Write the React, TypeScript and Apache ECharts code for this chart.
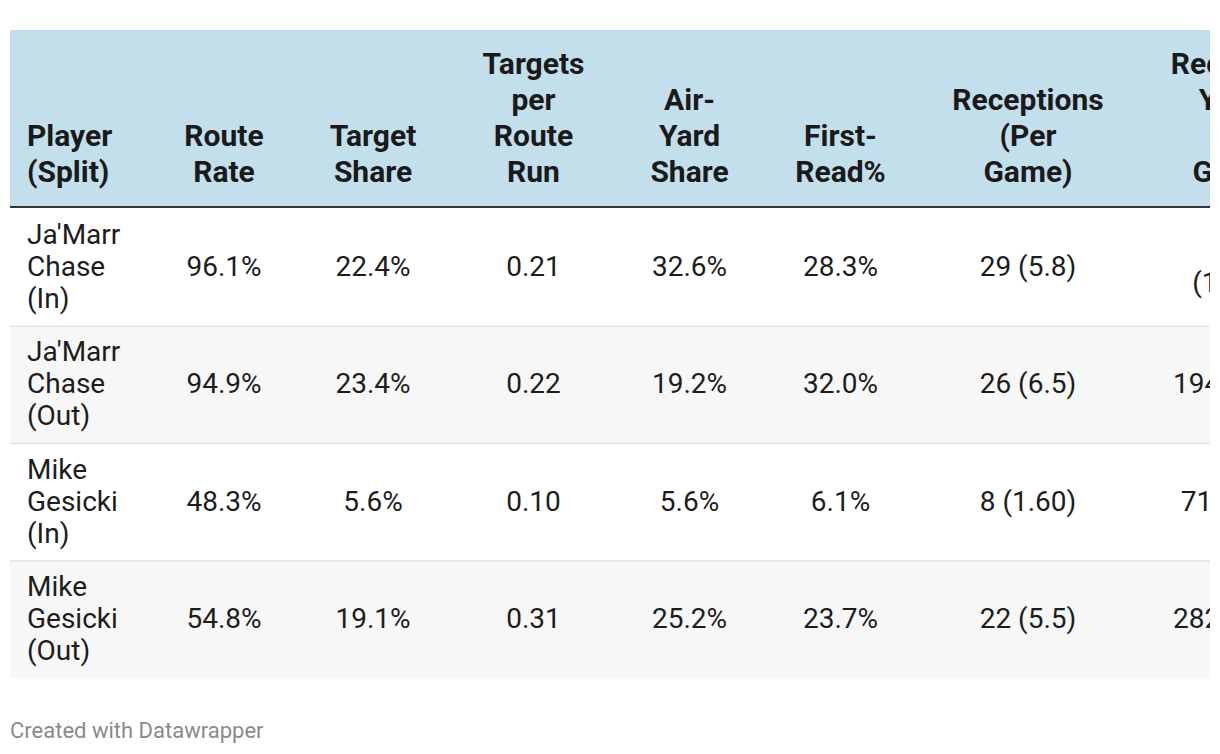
import React, { useEffect, useRef } from "react";
import * as echarts from "echarts";

// ---- data ----
const headers = [
  "Player\n(Split)",
  "Route\nRate",
  "Target\nShare",
  "Targets\nper\nRoute\nRun",
  "Air-\nYard\nShare",
  "First-\nRead%",
  "Receptions\n(Per\nGame)",
  "Receiving\nYards\n(Per\nGame)",
];
const players = ["Ja'Marr Chase (In)", "Ja'Marr Chase (Out)", "Mike Gesicki (In)", "Mike Gesicki (Out)"];
const routeRate = [96.1, 94.9, 48.3, 54.8];
const targetShare = [22.4, 23.4, 5.6, 19.1];
const targetsPerRouteRun = [0.21, 0.22, 0.1, 0.31];
const airYardShare = [32.6, 19.2, 5.6, 25.2];
const firstRead = [28.3, 32.0, 6.1, 23.7];
const receptions = [29, 26, 8, 22];
const receptionsPerGame = ["5.8", "6.5", "1.60", "5.5"];
const recYards = [539, 194, 71, 282];
const recYardsPerGame = ["107.8", "48.5", "14.2", "70.5"];
const footer = "Created with Datawrapper";

// ---- layout ----
const FONT = "Roboto, 'Noto Sans', sans-serif";
const COL_CENTERS = [17, 214, 363, 523.5, 679.5, 830.5, 1018, 1227];
const COL_WIDTHS = [110, 140, 140, 140, 140, 140, 170, 135];
const HEADER_TOP = 30;
const HEADER_BOTTOM = 207;
const ROW_TOP = 209;
const ROW_H = 117.3;
const TABLE_W = 1200;

function pct(v: number) {
  return v.toFixed(1) + "%";
}

function buildRows(): string[][] {
  return players.map((p, i) => [
    p.split(" ").join("\n"),
    pct(routeRate[i]),
    pct(targetShare[i]),
    targetsPerRouteRun[i].toFixed(2),
    pct(airYardShare[i]),
    pct(firstRead[i]),
    `${receptions[i]} (${receptionsPerGame[i]})`,
    `${recYards[i]} (${recYardsPerGame[i]})`,
  ]);
}

export default function App() {
  const ref = useRef<HTMLDivElement>(null);
  useEffect(() => {
    if (!ref.current) return;
    const chart = echarts.init(ref.current, null, { renderer: "svg" });
    const els: any[] = [];
    els.push({
      type: "rect",
      shape: { x: 0, y: HEADER_TOP, width: TABLE_W, height: HEADER_BOTTOM - HEADER_TOP },
      style: { fill: "#c3dfec" },
      silent: true,
    });
    const rows = buildRows();
    rows.forEach((_, i) => {
      const y = ROW_TOP + i * ROW_H;
      els.push({
        type: "rect",
        shape: { x: 0, y, width: TABLE_W, height: ROW_H },
        style: { fill: i % 2 === 1 ? "#f7f7f7" : "#ffffff" },
        silent: true,
      });
      if (i > 0) {
        els.push({
          type: "line",
          shape: { x1: 0, y1: y, x2: TABLE_W, y2: y },
          style: { stroke: "#e3e3e3", lineWidth: 1.5 },
          silent: true,
        });
      }
    });
    els.push({
      type: "rect",
      shape: { x: 0, y: HEADER_BOTTOM - 1, width: TABLE_W, height: 2 },
      style: { fill: "#333333" },
      silent: true,
    });
    headers.forEach((h, c) => {
      els.push({
        type: "text",
        x: COL_CENTERS[c],
        y: 189,
        style: {
          text: h,
          fontFamily: FONT,
          fontSize: 30,
          fontWeight: "bold",
          fill: "#1a1a1a",
          lineHeight: 36,
          textAlign: c === 0 ? "left" : "center",
          textVerticalAlign: "bottom",
        },
        silent: true,
      });
    });
    rows.forEach((r, i) => {
      const cy = ROW_TOP + i * ROW_H + ROW_H / 2 - 1;
      r.forEach((t, c) => {
        els.push({
          type: "text",
          x: COL_CENTERS[c],
          y: cy,
          style: {
            text: t,
            fontFamily: FONT,
            fontSize: 28,
            fill: "#1d1d1d",
            lineHeight: 32,
            width: COL_WIDTHS[c],
            overflow: "break",
            textAlign: c === 0 ? "left" : "center",
            textVerticalAlign: "middle",
          },
          silent: true,
        });
      });
    });
    els.push({
      type: "text",
      x: 0,
      y: 730,
      style: {
        text: footer,
        fontFamily: FONT,
        fontSize: 22,
        fill: "#8a8a8a",
        textAlign: "left",
        textVerticalAlign: "middle",
      },
      silent: true,
    });
    chart.setOption({ animation: false, graphic: { elements: els } });
    return () => chart.dispose();
  }, []);
  return (
    <div
      ref={ref}
      style={{ position: "fixed", left: 10, top: 0, width: 1200, height: 754, overflow: "hidden", background: "#fff" }}
    />
  );
}
